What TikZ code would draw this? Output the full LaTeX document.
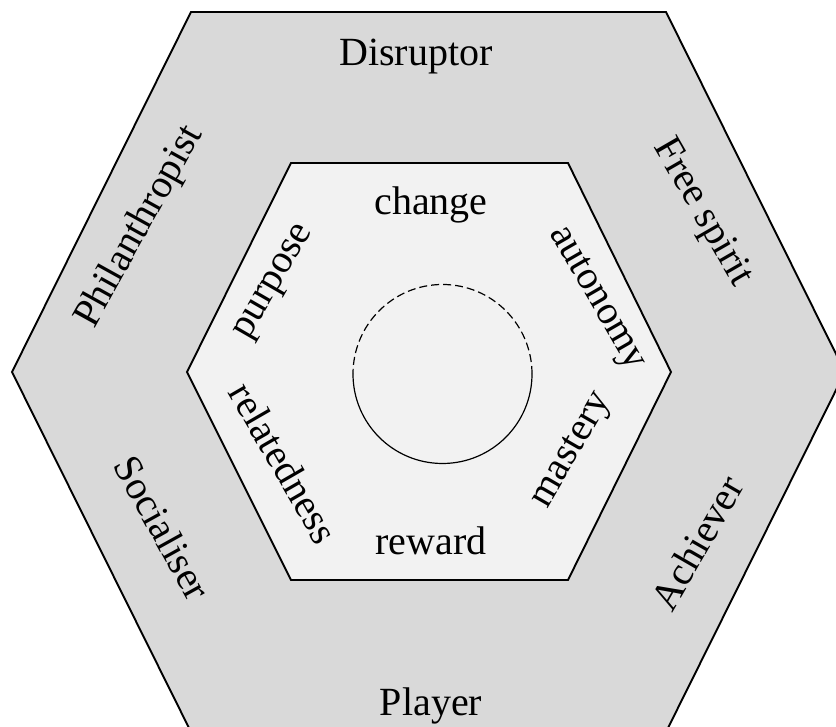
\documentclass[tikz,border=0pt]{standalone}
\usepackage{fontspec}
\setmainfont{Liberation Serif}
\definecolor{outergray}{RGB}{217,217,217}
\definecolor{innergray}{RGB}{242,242,242}
\tikzset{
  hexline/.style={draw=black, line width=1.9pt, line join=miter},
  lbl/.style={inner sep=0pt, font=\fontsize{40}{48}\selectfont},
}
\begin{document}
\begin{tikzpicture}[x=1pt,y=1pt]
\useasboundingbox (0,0) rectangle (836,727);
\clip (0,0) rectangle (836,727);
\fill[white] (0,0) rectangle (836,727);
% outer hexagon
\draw[hexline, fill=outergray] (191,715) -- (666,715) -- (845,355) -- (666,-5) -- (191,-5) -- (12,355) -- cycle;
% inner hexagon
\draw[hexline, fill=innergray] (291,564) -- (568,564) -- (671,355) -- (568,147) -- (291,147) -- (187,355) -- cycle;
% circle
\coordinate (cc) at (442.5,353);
\draw[line width=1.2pt, dash pattern=on 8pt off 4pt] ([xshift=89.5pt]cc) arc[start angle=0, end angle=180, radius=89.5];
\draw[line width=1.2pt] ([xshift=89.5pt]cc) arc[start angle=0, end angle=-180, radius=89.5];
% outer labels
\node[lbl, anchor=base] (disruptor) at (416,661) {Disruptor};
\node[lbl, anchor=base] (player) at (431,11) {Player};
\node[lbl, rotate=61] (philanthropist) at (140,500) {Philanthropist};
\node[lbl, rotate=-60] (freespirit) at (702,514) {Free spirit};
\node[lbl, rotate=-61] (socialiser) at (163,199) {Socialiser};
\node[lbl, rotate=60] (achiever) at (697,184) {Achiever};
% inner labels
\node[lbl, anchor=base] (change) at (431,512) {change};
\node[lbl, anchor=base] (reward) at (431,172) {reward};
\node[lbl, rotate=60] (purpose) at (276,444) {purpose};
\node[lbl, rotate=-60] (autonomy) at (596,428) {autonomy};
\node[lbl, rotate=-60] (relatedness) at (284,264) {relatedness};
\node[lbl, rotate=60] (mastery) at (573,276) {mastery};
\end{tikzpicture}
\end{document}
